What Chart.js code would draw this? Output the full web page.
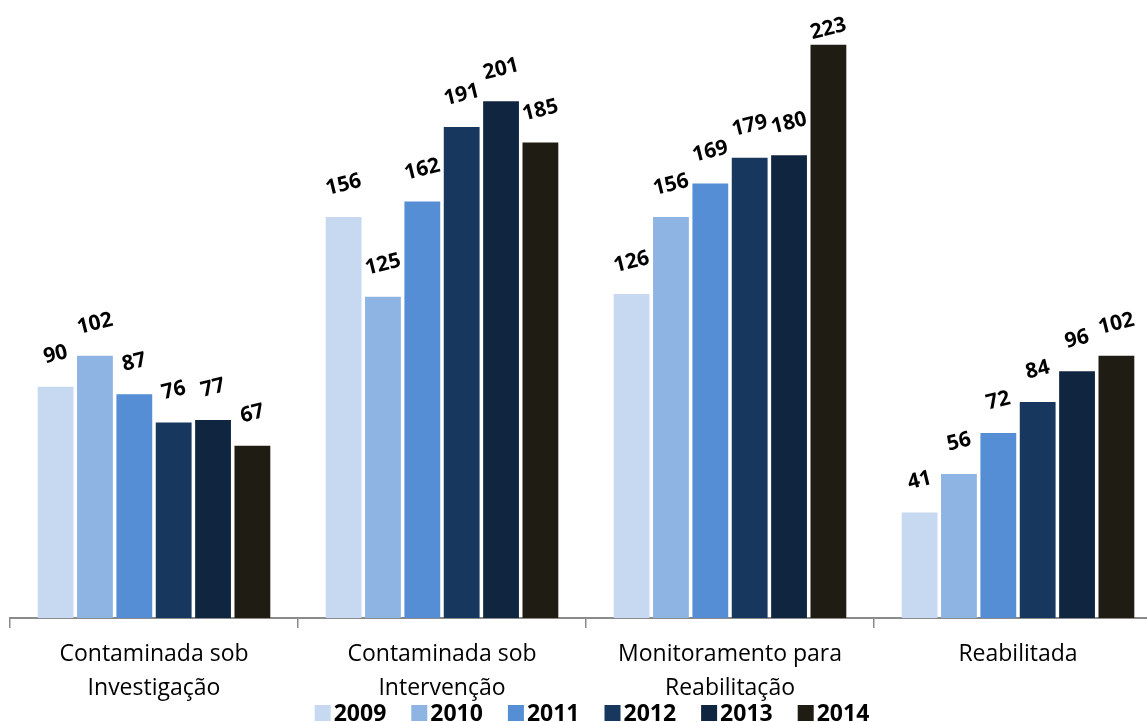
<!DOCTYPE html>
<html>
<head>
<meta charset="utf-8">
<script src="https://cdn.jsdelivr.net/npm/chart.js@4"></script>
<style>
  html, body { margin: 0; padding: 0; background: #fff; overflow: hidden; }
  #wrap { position: relative; width: 1170px; height: 722px; }
</style>
</head>
<body>
<div id="wrap"><canvas id="chart" width="1170" height="722"></canvas></div>
<script>
// Áreas por classificação, 2009–2014
const categories = [
  ['Contaminada sob', 'Investigação'],
  ['Contaminada sob', 'Intervenção'],
  ['Monitoramento para', 'Reabilitação'],
  ['Reabilitada']
];
const years = ['2009', '2010', '2011', '2012', '2013', '2014'];
const v2009 = [90, 156, 126, 41];
const v2010 = [102, 125, 156, 56];
const v2011 = [87, 162, 169, 72];
const v2012 = [76, 191, 179, 84];
const v2013 = [77, 201, 180, 96];
const v2014 = [67, 185, 223, 102];

const seriesValues = [v2009, v2010, v2011, v2012, v2013, v2014];
const colors = ['#C6D9F1', '#8EB4E3', '#558ED5', '#17375E', '#10253F', '#1F1D13'];

const FONT = '"Open Sans", Lato, sans-serif';

// Rotated value labels above each bar
const valueLabels = {
  id: 'valueLabels',
  afterDatasetsDraw(chart) {
    const ctx = chart.ctx;
    ctx.save();
    ctx.font = 'bold 21px ' + FONT;
    ctx.fillStyle = '#000';
    ctx.textAlign = 'center';
    ctx.textBaseline = 'middle';
    chart.data.datasets.forEach((ds, di) => {
      const meta = chart.getDatasetMeta(di);
      meta.data.forEach((bar, i) => {
        const y = Math.max(bar.y - 32, 29);
        ctx.save();
        ctx.translate(bar.x, y);
        ctx.rotate(-14 * Math.PI / 180);
        ctx.fillText(String(ds.data[i]), 0, 0);
        ctx.restore();
      });
    });
    ctx.restore();
  }
};

// Legend row along the bottom edge
const bottomLegend = {
  id: 'bottomLegend',
  afterDraw(chart) {
    const ctx = chart.ctx;
    ctx.save();
    ctx.font = 'bold 23px ' + FONT;
    ctx.textBaseline = 'middle';
    ctx.textAlign = 'left';
    const box = 16, boxGap = 3, itemGap = 25;
    const items = chart.data.datasets.map(ds => ({
      text: ds.label, color: ds.backgroundColor,
      w: box + boxGap + ctx.measureText(ds.label).width
    }));
    const total = items.reduce((s, it) => s + it.w, 0) + itemGap * (items.length - 1);
    let x = 592 - total / 2;
    const cy = 713;
    items.forEach(it => {
      ctx.fillStyle = it.color;
      ctx.fillRect(x, cy - box / 2, box, box);
      ctx.fillStyle = '#000';
      ctx.fillText(it.text, x + box + boxGap, cy + 1);
      x += it.w + itemGap;
    });
    ctx.restore();
  }
};

new Chart(document.getElementById('chart'), {
  type: 'bar',
  data: {
    labels: categories,
    datasets: years.map((y, i) => ({
      label: y,
      data: seriesValues[i],
      backgroundColor: colors[i],
      borderWidth: 0,
      barPercentage: 0.91,
      categoryPercentage: 0.82
    }))
  },
  options: {
    responsive: false,
    animation: false,
    devicePixelRatio: 1,
    layout: { padding: { left: 10, right: 8, top: 1, bottom: 0 } },
    plugins: {
      legend: { display: false },
      tooltip: { enabled: false }
    },
    scales: {
      x: {
        offset: true,
        grid: {
          display: true,
          offset: true,
          drawOnChartArea: false,
          drawTicks: true,
          tickLength: 10,
          color: '#8a8a8a',
          lineWidth: 1.5
        },
        border: { display: true, color: '#8a8a8a', width: 2 },
        ticks: {
          color: '#000',
          font: { family: FONT, size: 23, lineHeight: 1.45 },
          padding: 10,
          maxRotation: 0,
          autoSkip: false
        },
        afterFit(scale) { scale.height = 104; }
      },
      y: {
        display: false,
        min: 0,
        max: 240
      }
    }
  },
  plugins: [valueLabels, bottomLegend]
});
</script>
</body>
</html>
